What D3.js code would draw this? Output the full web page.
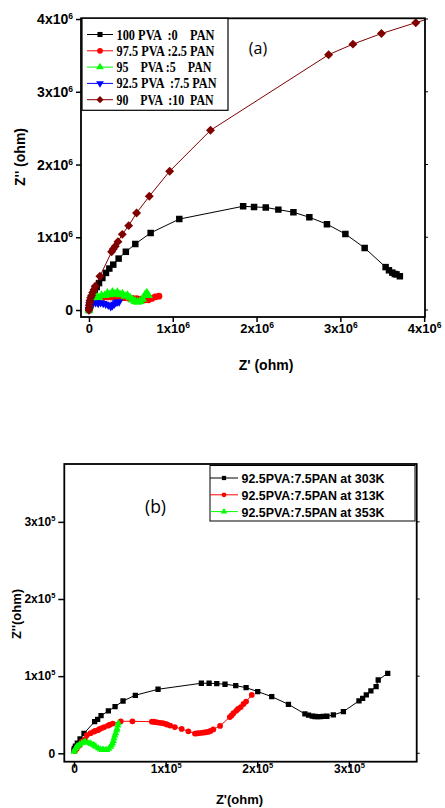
<!DOCTYPE html>
<html>
<head>
<meta charset="utf-8">
<script src="https://cdn.jsdelivr.net/npm/d3@7/dist/d3.min.js"></script>
<style>
body { margin: 0; background: #fff; }
svg { display: block; }
</style>
</head>
<body>
<script>
var width = 445;
var height = 808;

// ---- panel (a): Z' / Z'' in units of 1e6 ohm ----
var pva100 = [[0,0],[0.005,0.05],[0.015,0.1],[0.03,0.16],[0.05,0.22],[0.07,0.27],[0.092,0.316],[0.12,0.37],[0.16,0.44],
  [0.203,0.51],[0.243,0.57],[0.29,0.624],[0.354,0.707],[0.44,0.80],[0.553,0.908],[0.736,1.06],[1.078,1.25],
  [1.84,1.426],[1.97,1.417],[2.11,1.41],[2.26,1.38],[2.44,1.344],[2.63,1.275],[2.84,1.18],[3.06,1.045],[3.29,0.853],
  [3.54,0.59],[3.58,0.546],[3.62,0.514],[3.65,0.495],[3.67,0.49],[3.71,0.464]];
var pva97 = [[0,0],[0.005,0.03],[0.01,0.06],[0.02,0.09],[0.035,0.12],[0.055,0.145],[0.08,0.16],[0.12,0.17],[0.17,0.175],
  [0.22,0.18],[0.27,0.18],[0.32,0.18],[0.37,0.175],[0.42,0.17],[0.47,0.165],[0.52,0.16],[0.57,0.155],[0.62,0.15],
  [0.67,0.14],[0.71,0.14],[0.75,0.16],[0.79,0.18],[0.835,0.19]];
var pva95 = [[0,0],[0.01,0.05],[0.03,0.1],[0.06,0.15],[0.09,0.19],[0.12,0.17],[0.15,0.2],[0.19,0.2],[0.22,0.23],
  [0.25,0.21],[0.28,0.245],[0.31,0.22],[0.34,0.24],[0.37,0.21],[0.40,0.22],[0.43,0.19],[0.46,0.2],[0.49,0.17],
  [0.52,0.14],[0.55,0.12],[0.58,0.11],[0.61,0.12],[0.64,0.15],[0.67,0.21],[0.69,0.235],[0.71,0.2]];
var pva92 = [[0,0],[0.01,0.04],[0.03,0.07],[0.05,0.09],[0.08,0.1],[0.11,0.09],[0.14,0.1],[0.17,0.09],[0.2,0.08],
  [0.23,0.065],[0.26,0.045],[0.28,0.06],[0.3,0.08],[0.32,0.1],[0.34,0.11],[0.36,0.11]];
var pva90 = [[0,0],[0.002,0.03],[0.004,0.065],[0.008,0.1],[0.012,0.13],[0.02,0.17],[0.032,0.2],[0.045,0.24],[0.06,0.28],
  [0.075,0.326],[0.131,0.464],[0.27,0.80],[0.29,0.84],[0.314,0.876],[0.346,0.94],[0.398,1.04],[0.474,1.16],
  [0.568,1.334],[0.72,1.564],[0.963,1.908],[1.45,2.47],[2.86,3.51],[3.15,3.655],[3.49,3.80],[3.90,3.95],[4.1,4.02]];
var legendA = ["100 PVA  :0    PAN", "97.5 PVA :2.5 PAN", "95    PVA :5    PAN", "92.5 PVA  :7.5 PAN", "90    PVA  :10  PAN"];
var ticksA = [0, 1, 2, 3, 4];

// ---- panel (b): 92.5PVA:7.5PAN at three temperatures, units of 1e5 ohm ----
var k303 = [[0,0.04],[0.004,0.065],[0.015,0.094],[0.036,0.13],[0.066,0.185],[0.109,0.259],[0.225,0.41],[0.258,0.44],
  [0.295,0.488],[0.375,0.549],[0.448,0.604],[0.535,0.678],[0.669,0.752],[0.917,0.83],[1.39,0.908],[1.474,0.908],
  [1.558,0.903],[1.648,0.895],[1.765,0.877],[1.878,0.851],[2.005,0.80],[2.158,0.734],[2.34,0.635],[2.52,0.51],
  [2.56,0.495],[2.60,0.483],[2.63,0.477],[2.66,0.475],[2.69,0.475],[2.72,0.478],[2.76,0.48],[2.83,0.497],[2.94,0.54],
  [3.11,0.68],[3.15,0.713],[3.19,0.756],[3.24,0.81],[3.297,0.864],[3.32,0.95],[3.424,1.037]];
var k313 = [[0.01,0.03],[0.03,0.06],[0.06,0.10],[0.085,0.15],[0.12,0.18],[0.14,0.235],[0.18,0.26],[0.215,0.28],
  [0.23,0.29],[0.26,0.30],[0.28,0.315],[0.31,0.33],[0.33,0.34],[0.37,0.358],[0.39,0.37],[0.423,0.385],[0.51,0.415],
  [0.637,0.415],[0.85,0.41],[0.87,0.41],[0.885,0.405],[0.91,0.40],[0.94,0.395],[0.97,0.39],[1.0,0.38],[1.02,0.37],
  [1.05,0.36],[1.1,0.34],[1.175,0.315],[1.248,0.285],[1.32,0.255],[1.34,0.257],[1.36,0.26],[1.39,0.265],[1.41,0.268],
  [1.43,0.27],[1.45,0.275],[1.47,0.28],[1.49,0.29],[1.52,0.31],[1.594,0.354],[1.70,0.47],[1.72,0.49],[1.74,0.52],
  [1.77,0.55],[1.79,0.575],[1.82,0.6],[1.85,0.64],[1.878,0.67],[1.94,0.756]];
var k353 = [[0,0.02],[0.01,0.05],[0.02,0.07],[0.03,0.085],[0.045,0.1],[0.06,0.11],[0.084,0.13],[0.1,0.14],[0.12,0.15],
  [0.15,0.14],[0.175,0.13],[0.19,0.12],[0.21,0.11],[0.225,0.1],[0.24,0.085],[0.265,0.065],[0.29,0.05],[0.31,0.045],
  [0.32,0.043],[0.34,0.042],[0.357,0.043],[0.38,0.06],[0.4,0.085],[0.41,0.11],[0.42,0.13],[0.43,0.16],[0.437,0.195],
  [0.445,0.23],[0.455,0.26],[0.465,0.3],[0.47,0.32],[0.478,0.36],[0.484,0.39]];
var legendB = ["92.5PVA:7.5PAN at 303K", "92.5PVA:7.5PAN at 313K", "92.5PVA:7.5PAN at 353K"];
var ticksB = [0, 1, 2, 3];

var svg = d3.select("body").append("svg")
    .attr("width", width)
    .attr("height", height);

var sansBold = "'Liberation Sans', Arial, sans-serif";

function tickLabel(sel, exp, supSize) {
    sel.each(function(d) {
        var t = d3.select(this).text(null);
        if (d === 0) { t.append("tspan").text("0"); return; }
        t.append("tspan").text(d + "x10");
        t.append("tspan").attr("dy", -5).attr("font-size", supSize).text(exp);
    });
}

function symbolPath(type, size) {
    return d3.symbol().type(type).size(size)();
}

function panel(cfg) {
    var x = d3.scaleLinear().domain(cfg.xDomain).range([cfg.left, cfg.right]);
    var y = d3.scaleLinear().domain(cfg.yDomain).range([cfg.bottom, cfg.top]);
    var g = svg.append("g");

    g.append("clipPath").attr("id", cfg.id + "-clip")
        .append("rect")
        .attr("x", cfg.left).attr("y", cfg.top)
        .attr("width", cfg.right - cfg.left).attr("height", cfg.bottom - cfg.top);

    var plot = g.append("g").attr("clip-path", "url(#" + cfg.id + "-clip)");
    var line = d3.line()
        .x(function(d) { return x(d[0]); })
        .y(function(d) { return y(d[1]); });

    cfg.series.forEach(function(s) {
        plot.append("path")
            .datum(s.data)
            .attr("fill", "none")
            .attr("stroke", s.color)
            .attr("stroke-width", 1)
            .attr("d", line);
        plot.append("g").selectAll("path")
            .data(s.data)
            .enter().append("path")
            .attr("d", symbolPath(s.symbol, s.size))
            .attr("fill", s.color)
            .attr("transform", function(d) {
                return "translate(" + x(d[0]) + "," + y(d[1]) + ") rotate(" + (s.rotate || 0) + ")";
            });
    });

    // axes
    var xAxis = g.append("g")
        .attr("transform", "translate(0," + cfg.bottom + ")")
        .call(d3.axisBottom(x).tickValues(cfg.ticks).tickSize(cfg.tickLen).tickSizeOuter(0));
    var yAxis = g.append("g")
        .attr("transform", "translate(" + cfg.left + ",0)")
        .call(d3.axisLeft(y).tickValues(cfg.ticks).tickSize(cfg.tickLen).tickSizeOuter(0).tickPadding(cfg.yPad));
    [xAxis, yAxis].forEach(function(a) {
        a.select(".domain").remove();
        a.selectAll("line").attr("stroke", "#000").attr("stroke-width", 1.5);
        a.attr("font-family", sansBold).attr("font-weight", "bold");
    });
    xAxis.attr("font-size", cfg.xTickFont);
    yAxis.attr("font-size", cfg.yTickFont);
    xAxis.selectAll("text").attr("y", cfg.xLabelY).attr("dy", null).call(tickLabel, cfg.exp, cfg.supFont);
    yAxis.selectAll("text").call(tickLabel, cfg.exp, cfg.supFont);

    // small ticks on the right edge
    g.append("g").selectAll("line")
        .data(cfg.ticks)
        .enter().append("line")
        .attr("x1", cfg.right).attr("x2", cfg.right + 3)
        .attr("y1", function(d) { return y(d); })
        .attr("y2", function(d) { return y(d); })
        .attr("stroke", "#000");

    g.append("rect")
        .attr("x", cfg.left).attr("y", cfg.top)
        .attr("width", cfg.right - cfg.left).attr("height", cfg.bottom - cfg.top)
        .attr("fill", "none")
        .attr("stroke", "#000")
        .attr("stroke-width", 1.8);

    // axis titles
    g.append("text")
        .attr("x", cfg.xTitle[0]).attr("y", cfg.xTitle[1])
        .attr("text-anchor", "middle")
        .attr("font-family", sansBold).attr("font-weight", "bold")
        .attr("font-size", cfg.titleFont)
        .text(cfg.xLabel);
    g.append("text")
        .attr("transform", "translate(" + cfg.yTitle[0] + "," + cfg.yTitle[1] + ") rotate(-90)")
        .attr("text-anchor", "middle")
        .attr("font-family", sansBold).attr("font-weight", "bold")
        .attr("font-size", cfg.titleFont)
        .text(cfg.yLabel);

    // panel tag
    g.append("text")
        .attr("x", cfg.tag[0]).attr("y", cfg.tag[1])
        .attr("text-anchor", "middle")
        .attr("font-family", "'Open Sans', 'Liberation Sans', sans-serif")
        .attr("font-size", cfg.tagFont)
        .text(cfg.tagText);

    // legend
    var L = cfg.legend;
    g.append("rect")
        .attr("x", L.x).attr("y", L.y).attr("width", L.w).attr("height", L.h)
        .attr("fill", "#fff").attr("stroke", "#000").attr("stroke-width", L.stroke);
    var row = g.append("g").selectAll("g")
        .data(cfg.series)
        .enter().append("g")
        .attr("transform", function(d, i) { return "translate(0," + (L.firstRow + i * L.rowGap) + ")"; });
    row.append("line")
        .attr("x1", L.lineX[0]).attr("x2", L.lineX[1])
        .attr("stroke", function(d) { return d.color; });
    row.append("path")
        .attr("d", function(d) { return symbolPath(d.symbol, L.markSize); })
        .attr("fill", function(d) { return d.color; })
        .attr("transform", function(d) {
            return "translate(" + (L.lineX[0] + L.lineX[1]) / 2 + ",0) rotate(" + (d.rotate || 0) + ")";
        });
    row.append("text")
        .attr("x", L.textX).attr("y", L.textDy)
        .attr("font-family", L.font).attr("font-weight", "bold").attr("font-size", L.fontSize)
        .attr("textLength", function(d, i) { return L.textLen[i]; })
        .attr("lengthAdjust", "spacingAndGlyphs")
        .style("white-space", "pre")
        .text(function(d, i) { return cfg.labels[i]; });
}

panel({
    id: "a",
    left: 81, right: 425, top: 18.3, bottom: 317,
    xDomain: [-0.095, 4.01], yDomain: [-0.096, 4.01],
    ticks: ticksA, exp: "6", tickLen: 5, yPad: 3, xLabelY: 16,
    xTickFont: 13, yTickFont: 14, supFont: 8.5,
    series: [
        {data: pva100, color: "#000000", symbol: d3.symbolSquare, size: 42},
        {data: pva97, color: "#ff0000", symbol: d3.symbolCircle, size: 36},
        {data: pva95, color: "#00ff00", symbol: d3.symbolTriangle, size: 36},
        {data: pva92, color: "#0000ff", symbol: d3.symbolTriangle, size: 30, rotate: 180},
        {data: pva90, color: "#800000", symbol: d3.symbolSquare, size: 40, rotate: 45}
    ],
    labels: legendA,
    legend: {x: 82, y: 18.3, w: 146, h: 92, stroke: 1.2, firstRow: 34.5, rowGap: 16.3,
        lineX: [87, 113], markSize: 26, textX: 116.5, textDy: 5, fontSize: 14,
        font: "'Liberation Serif', 'Times New Roman', serif", textLen: [98, 98, 95, 100, 97]},
    xLabel: "Z' (ohm)", xTitle: [266, 370],
    yLabel: "Z'' (ohm)", yTitle: [24.5, 157],
    titleFont: 14,
    tag: [258, 54], tagText: "(a)", tagFont: 16
});

panel({
    id: "b",
    left: 64.3, right: 416.7, top: 464, bottom: 761.7,
    xDomain: [-0.106, 3.74], yDomain: [-0.109, 3.75],
    ticks: ticksB, exp: "5", tickLen: 6, yPad: 3, xLabelY: 11,
    xTickFont: 12, yTickFont: 12, supFont: 7.5,
    series: [
        {data: k303, color: "#000000", symbol: d3.symbolSquare, size: 28},
        {data: k313, color: "#ff0000", symbol: d3.symbolCircle, size: 26},
        {data: k353, color: "#00ff00", symbol: d3.symbolTriangle, size: 22}
    ],
    labels: legendB,
    legend: {x: 210, y: 465.5, w: 205, h: 55.5, stroke: 1, firstRow: 478, rowGap: 16.8,
        lineX: [210, 238], markSize: 18, textX: 241.5, textDy: 5, fontSize: 13.5,
        font: sansBold, textLen: [143, 143, 143]},
    xLabel: "Z'(ohm)", xTitle: [239.5, 804],
    yLabel: "Z''(ohm)", yTitle: [21, 614],
    titleFont: 13,
    tag: [155.5, 513], tagText: "(b)", tagFont: 17.5
});
</script>
</body>
</html>
